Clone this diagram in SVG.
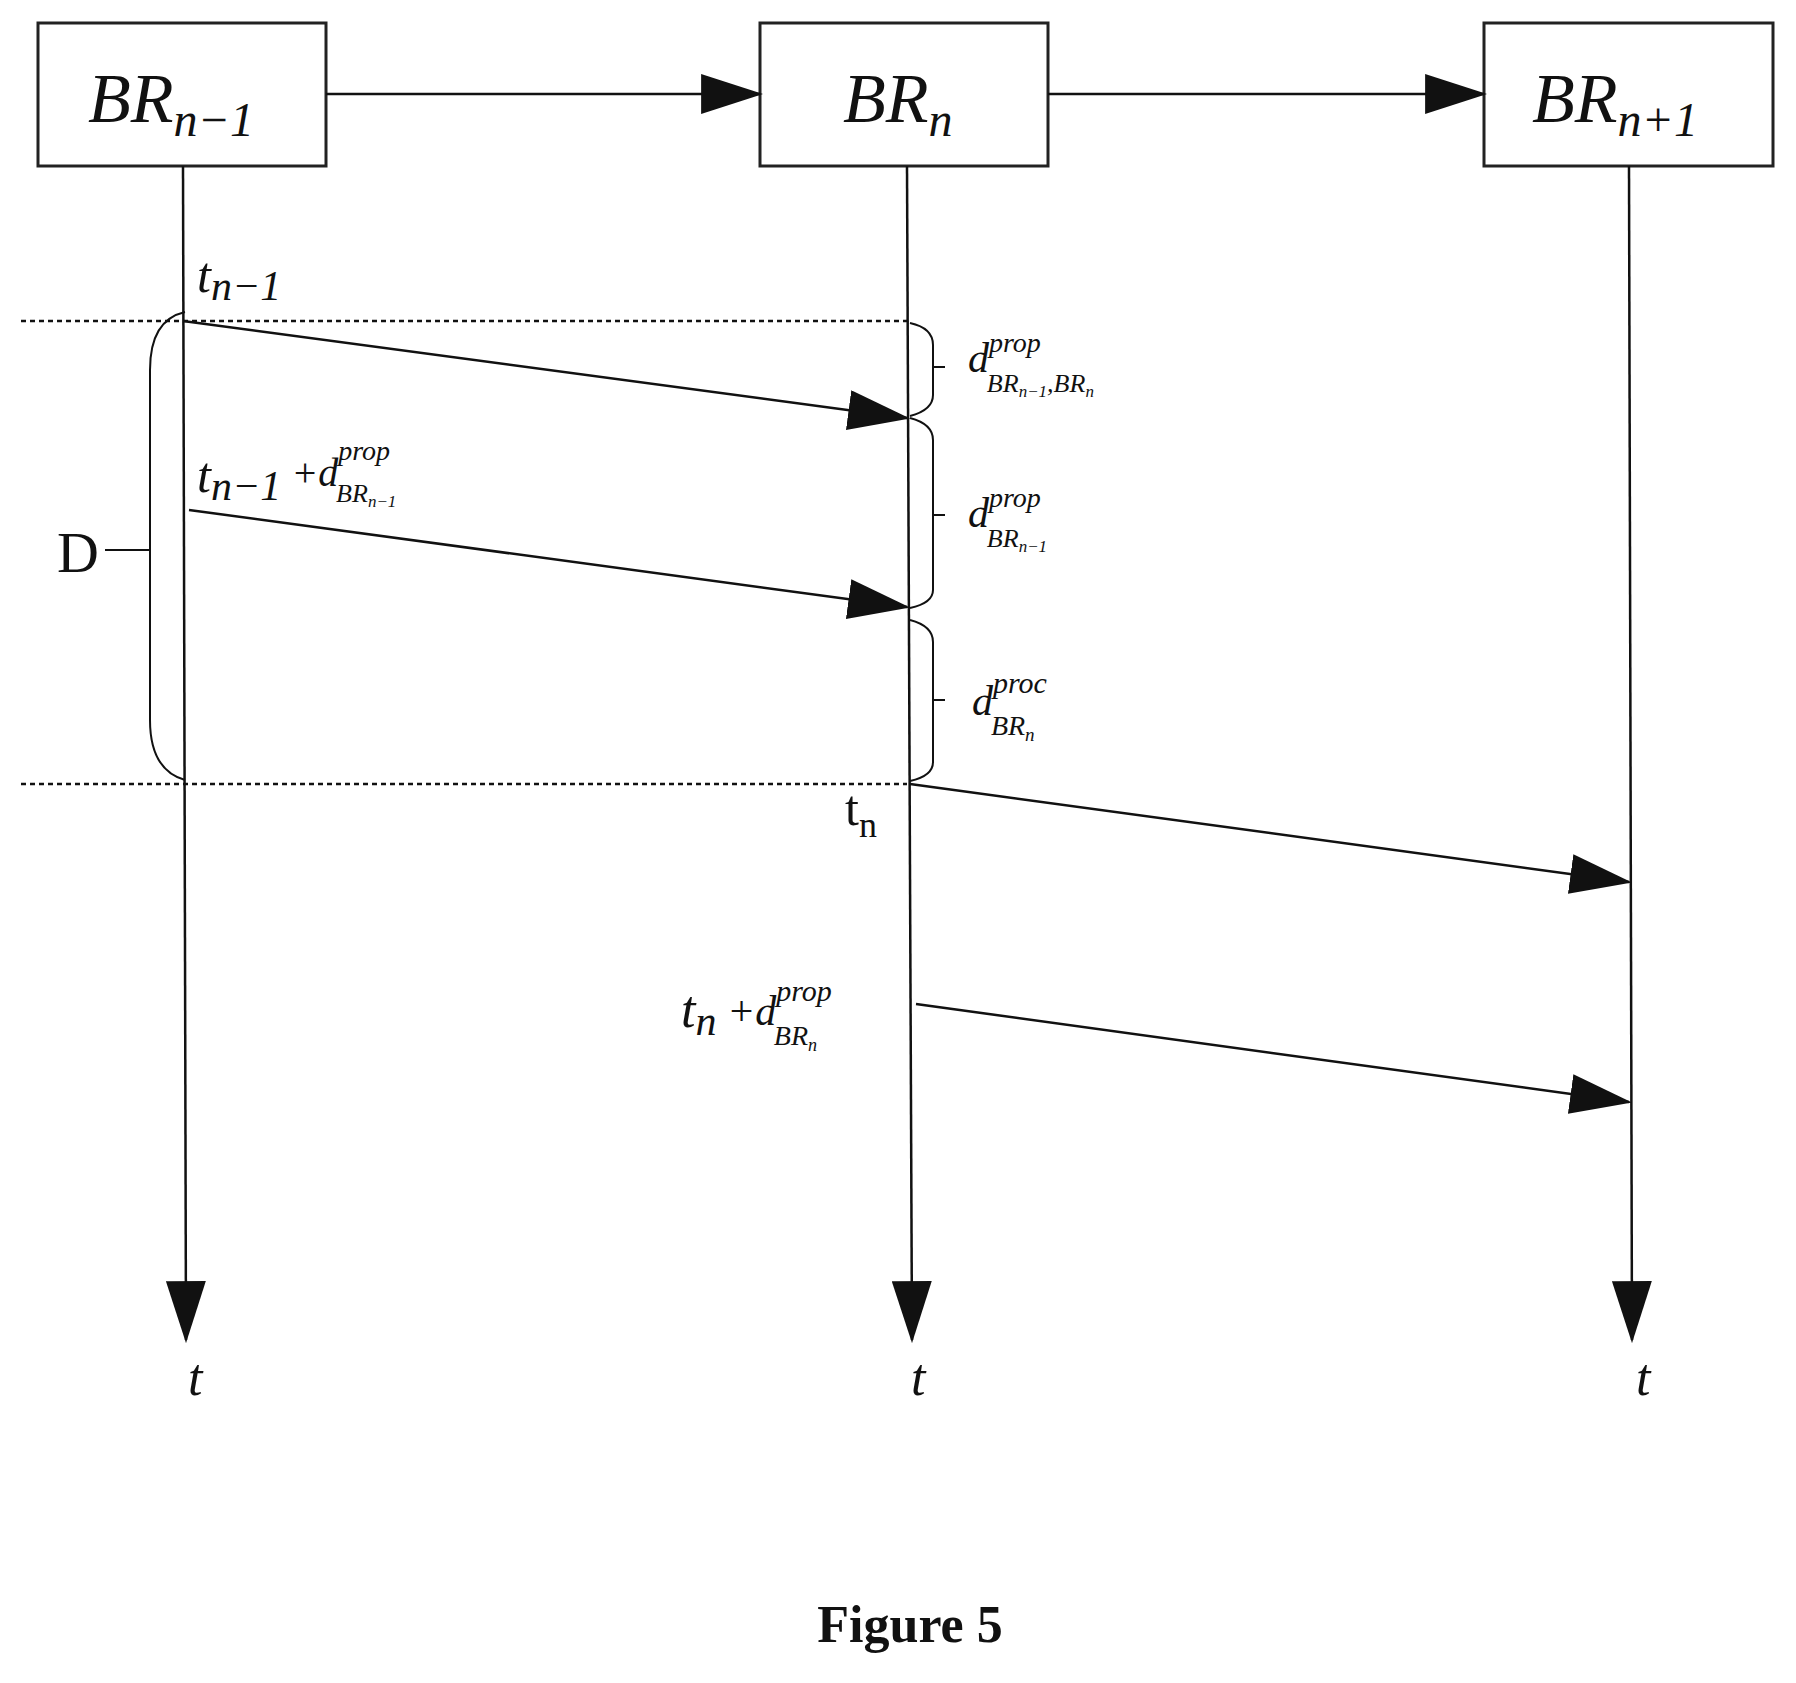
<svg xmlns="http://www.w3.org/2000/svg" width="1796" height="1683" viewBox="0 0 1796 1683">
<style>
.box{fill:#fff;stroke:#222;stroke-width:3}
.ln{stroke:#111;stroke-width:2.5;fill:none}
.dot{stroke:#111;stroke-width:2.5;stroke-dasharray:5 4;fill:none}
.br{stroke:#111;stroke-width:2;fill:none}
.it{font-family:"Liberation Serif",serif;font-style:italic;fill:#111}
.up{font-family:"Liberation Serif",serif;fill:#111}
.bt{font-family:"Liberation Serif",serif;font-style:italic;fill:#111;font-size:70px}
</style>
<defs>
<marker id="ahb" viewBox="0 0 20 20" refX="19" refY="10" markerWidth="62" markerHeight="40" markerUnits="userSpaceOnUse" orient="auto" preserveAspectRatio="none"><path d="M0,0 L20,10 L0,20 Z" fill="#111"/></marker>
</defs>
<rect width="1796" height="1683" fill="#fff"/>
<g id="node-brn-1"><rect class="box" x="38" y="23" width="288" height="143"/><text class="bt" x="88" y="122">BR<tspan font-size="48" dy="14">n−1</tspan></text></g>
<g id="node-brn"><rect class="box" x="760" y="23" width="288" height="143"/><text class="bt" x="843" y="122">BR<tspan font-size="48" dy="14">n</tspan></text></g>
<g id="node-brn+1"><rect class="box" x="1484" y="23" width="289" height="143"/><text class="bt" x="1532" y="122">BR<tspan font-size="48" dy="14">n+1</tspan></text></g>
<g id="connectors">
<line x1="326" y1="94" x2="760" y2="94" class="ln" marker-end="url(#ahb)"/>
<line x1="1048" y1="94" x2="1484" y2="94" class="ln" marker-end="url(#ahb)"/>
<line x1="183" y1="166" x2="186" y2="1340" class="ln" marker-end="url(#ahb)"/>
<line x1="907" y1="166" x2="912" y2="1340" class="ln" marker-end="url(#ahb)"/>
<line x1="1629" y1="166" x2="1632" y2="1340" class="ln" marker-end="url(#ahb)"/>
<line x1="183" y1="321" x2="907" y2="418" class="ln" marker-end="url(#ahb)"/>
<line x1="189" y1="510" x2="907" y2="607" class="ln" marker-end="url(#ahb)"/>
<line x1="910" y1="784" x2="1629" y2="882" class="ln" marker-end="url(#ahb)"/>
<line x1="916" y1="1004" x2="1629" y2="1102" class="ln" marker-end="url(#ahb)"/>
<line x1="21" y1="321" x2="907" y2="321" class="dot"/>
<line x1="21" y1="784" x2="907" y2="784" class="dot"/>
</g>
<g id="braces">
<path class="br" d="M185,312 Q150,320 150,370 L150,720 Q150,770 185,780"/>
<line class="br" x1="105" y1="550" x2="150" y2="550"/>
<path class="br" d="M910,323 Q933,328 933,345 L933,395 Q933,410 910,416 M933,367 L945,367"/>
<path class="br" d="M910,418 Q933,424 933,440 L933,590 Q933,603 910,608 M933,515 L945,515"/>
<path class="br" d="M910,620 Q933,626 933,642 L933,762 Q933,776 910,781 M933,700 L945,700"/>
</g>
<g id="labels">
<text class="up" x="57" y="572" font-size="58">D</text>
<text class="it" x="197" y="292" font-size="50">t<tspan font-size="42" dy="8">n−1</tspan></text>
<text class="it" x="197" y="492" font-size="50">t<tspan font-size="42" dy="8">n−1</tspan><tspan dy="-14" font-size="40"> +d</tspan><tspan font-size="28" dy="-26">prop</tspan><tspan font-size="26" dx="-54" dy="42">BR</tspan><tspan font-size="17" dy="5">n−1</tspan></text>
<text class="it" x="968" y="372" font-size="42">d<tspan font-size="28" dy="-20">prop</tspan><tspan font-size="26" dx="-54" dy="40">BR</tspan><tspan font-size="17" dy="5">n−1</tspan><tspan font-size="26" dy="-5">,BR</tspan><tspan font-size="17" dy="5">n</tspan></text>
<text class="it" x="968" y="527" font-size="42">d<tspan font-size="28" dy="-20">prop</tspan><tspan font-size="26" dx="-54" dy="40">BR</tspan><tspan font-size="17" dy="5">n−1</tspan></text>
<text class="it" x="972" y="715" font-size="42">d<tspan font-size="30" dy="-22">proc</tspan><tspan font-size="28" dx="-56" dy="42">BR</tspan><tspan font-size="19" dy="6">n</tspan></text>
<text class="up" x="845" y="825" font-size="50">t<tspan font-size="36" dy="12">n</tspan></text>
<text class="it" x="681" y="1027" font-size="52">t<tspan font-size="42" dy="8">n</tspan><tspan dy="-10" font-size="42"> +d</tspan><tspan font-size="30" dy="-24">prop</tspan><tspan font-size="28" dx="-58" dy="44">BR</tspan><tspan font-size="18" dy="6">n</tspan></text>
<text class="it" x="188" y="1395" font-size="52">t</text>
<text class="it" x="911" y="1395" font-size="52">t</text>
<text class="it" x="1636" y="1395" font-size="52">t</text>
<text class="up" x="910" y="1642" font-size="52" font-weight="bold" text-anchor="middle">Figure 5</text>
</g>
</svg>
